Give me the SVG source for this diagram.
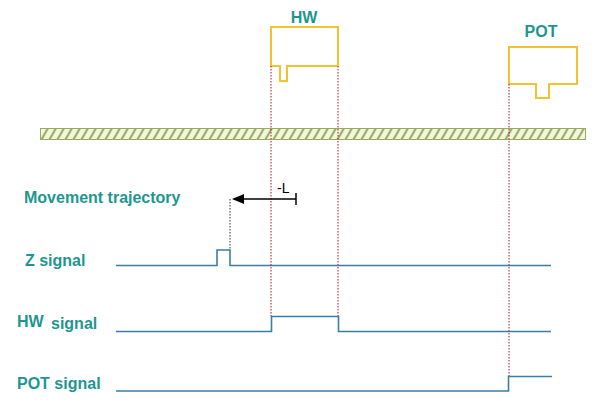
<svg xmlns="http://www.w3.org/2000/svg" width="600" height="406" viewBox="0 0 600 406">
<style>
.lbl{font-family:"Liberation Sans",Arial,sans-serif;font-weight:bold;font-size:16px;fill:#1e9690}
.sw{fill:none;stroke:#f2c232;stroke-width:2}
.sig{fill:none;stroke:#3a7ea6;stroke-width:1.6}
.red{fill:none;stroke:#b0283c;stroke-width:1.1;stroke-dasharray:1.5,1.5}
</style>
<defs>
<pattern id="hatch" width="8" height="12" patternUnits="userSpaceOnUse" patternTransform="skewX(-30)">
<rect width="8" height="12" fill="#f3f7dc"/>
<line x1="2" y1="0" x2="2" y2="12" stroke="#98ab66" stroke-width="2.4"/>
</pattern>
<marker id="ah" markerWidth="12" markerHeight="10" refX="10" refY="5" orient="auto" markerUnits="userSpaceOnUse">
<path d="M0,0 L12,5 L0,10 Z" fill="#000"/>
</marker>
</defs>
<rect width="600" height="406" fill="#fff"/>
<g id="track">
<rect x="40.5" y="128.5" width="545" height="11" fill="url(#hatch)" stroke="#98ab66" stroke-width="1"/>
</g>
<g id="hw-switch">
<path class="sw" d="M271,66 V27 H338 V66 H287 V81 H280 V66 Z"/>
<text class="lbl" x="304" y="23" text-anchor="middle">HW</text>
</g>
<g id="pot-switch">
<path class="sw" d="M509,84 V47 H577 V84 H549 V98 H536 V84 Z"/>
<text class="lbl" x="541" y="37" text-anchor="middle">POT</text>
</g>
<g id="labels">
<text class="lbl" x="24" y="203">Movement trajectory</text>
<text class="lbl" x="25" y="266">Z signal</text>
<text class="lbl" x="17" y="327">HW</text>
<text class="lbl" x="51" y="329">signal</text>
<text class="lbl" x="17" y="389">POT signal</text>
</g>
<g id="signals">
<path class="sig" d="M116,265.5 H217 V250 H230 V265.5 H551"/>
<path class="sig" d="M116,331.5 H271.5 V316.5 H338.5 V331.5 H551"/>
<path class="sig" d="M116,391 H508.5 V376.5 H552"/>
</g>
<g id="connectors">
<line class="red" x1="271" y1="66" x2="271" y2="316"/>
<line class="red" x1="338" y1="66" x2="338" y2="316"/>
<line class="red" x1="509" y1="84" x2="509" y2="376"/>
<line x1="230" y1="199" x2="230" y2="250" stroke="#333" stroke-width="1" stroke-dasharray="1.5,1.5"/>
<line x1="296" y1="199" x2="234" y2="199" stroke="#000" stroke-width="1.5" marker-end="url(#ah)"/>
<line x1="296" y1="193" x2="296" y2="205" stroke="#000" stroke-width="1.5"/>
<text x="277" y="193" font-family="Liberation Sans,Arial,sans-serif" font-size="14" fill="#000">-L</text>
</g>
</svg>
